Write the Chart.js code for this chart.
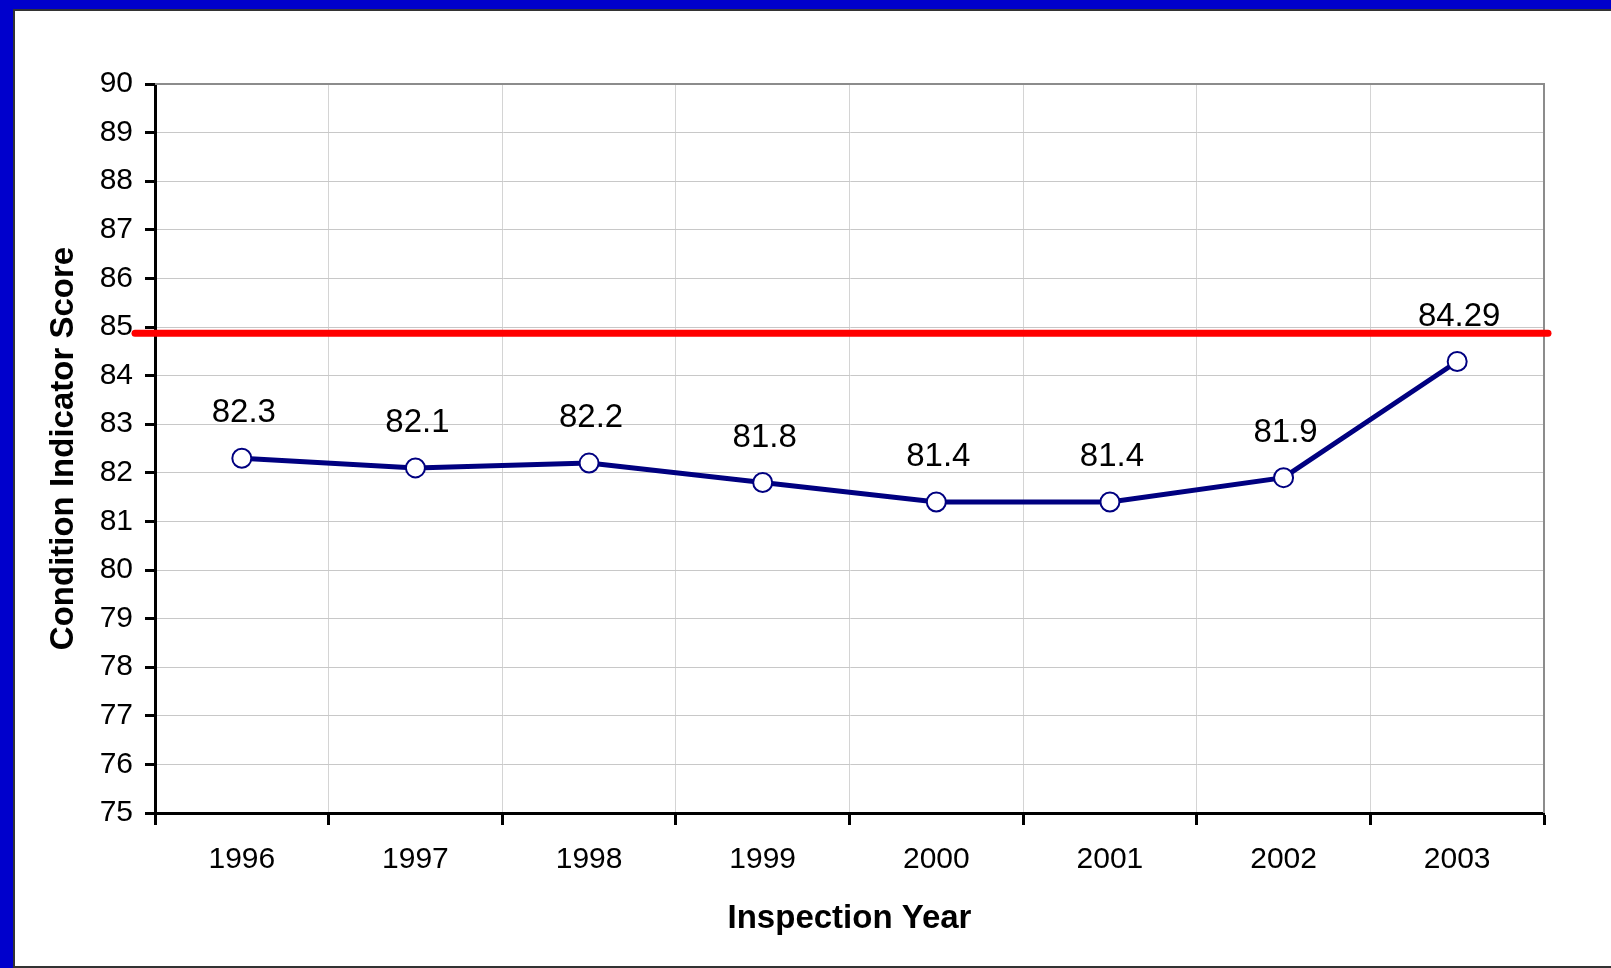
<!DOCTYPE html>
<html>
<head>
<meta charset="utf-8">
<title>Condition Indicator Score</title>
<script src="https://cdn.jsdelivr.net/npm/chart.js@4"></script>
<style>
    html, body { margin: 0; padding: 0; background: #ffffff; overflow: hidden; }
    .frame-top { position: absolute; left: 0; top: 0; width: 1611px; height: 9px; background: #0000cc; }
    .frame-top-line { position: absolute; left: 13px; top: 9px; width: 1598px; height: 2px; background: #333333; }
    .frame-left { position: absolute; left: 0; top: 0; width: 13px; height: 968px; background: #0000cc; }
    .frame-left-line { position: absolute; left: 13px; top: 9px; width: 2px; height: 959px; background: #333333; }
    .frame-bottom-line { position: absolute; left: 13px; top: 966px; width: 1598px; height: 2px; background: #333333; }
    #chart { position: absolute; left: 0; top: 0; }
</style>
</head>
<body>
<div class="frame-top"></div>
<div class="frame-left"></div>
<div class="frame-top-line"></div>
<div class="frame-left-line"></div>
<div class="frame-bottom-line"></div>
<canvas id="chart" width="1611" height="968"></canvas>
<script>
// Chart data
const years = ['1996', '1997', '1998', '1999', '2000', '2001', '2002', '2003'];
const scores = [82.3, 82.1, 82.2, 81.8, 81.4, 81.4, 81.9, 84.29];
const scoreLabels = ['82.3', '82.1', '82.2', '81.8', '81.4', '81.4', '81.9', '84.29'];
const targetLine = [84.87];
const yTicks = [75, 76, 77, 78, 79, 80, 81, 82, 83, 84, 85, 86, 87, 88, 89, 90];

const FONT = 'Arial, "Liberation Sans", sans-serif';

// Red target line, plot frame and value labels
const overlayPlugin = {
    id: 'overlay',
    beforeDatasetsDraw(chart) {
        const ctx = chart.ctx;
        const area = chart.chartArea;
        ctx.save();
        ctx.strokeStyle = '#8c8c8c';
        ctx.lineWidth = 2;
        ctx.beginPath();
        ctx.moveTo(area.left, area.top);
        ctx.lineTo(area.right, area.top);
        ctx.lineTo(area.right, area.bottom);
        ctx.stroke();
        ctx.restore();
    },
    afterDatasetsDraw(chart) {
        const ctx = chart.ctx;
        const area = chart.chartArea;
        const yScale = chart.scales.y;

        ctx.save();
        ctx.strokeStyle = '#ff0000';
        ctx.lineWidth = 7;
        ctx.lineCap = 'round';
        targetLine.forEach(v => {
            const y = yScale.getPixelForValue(v);
            ctx.beginPath();
            ctx.moveTo(area.left - 20, y);
            ctx.lineTo(area.right + 4, y);
            ctx.stroke();
        });

        ctx.fillStyle = '#000000';
        ctx.font = '33px ' + FONT;
        ctx.textAlign = 'center';
        ctx.textBaseline = 'middle';
        const meta = chart.getDatasetMeta(0);
        meta.data.forEach((pt, i) => {
            ctx.fillText(scoreLabels[i], pt.x + 2, pt.y - 45);
        });
        ctx.restore();
    }
};

const chart = new Chart(document.getElementById('chart').getContext('2d'), {
    type: 'line',
    data: {
        labels: years,
        datasets: [{
            label: 'Condition Indicator Score',
            data: scores,
            borderColor: '#000080',
            borderWidth: 5,
            tension: 0,
            pointRadius: 9.5,
            pointBorderWidth: 2,
            pointBackgroundColor: '#ffffff',
            pointBorderColor: '#000080'
        }]
    },
    options: {
        responsive: false,
        animation: false,
        layout: {
            padding: { left: 0, top: 84, right: 67, bottom: 0 }
        },
        plugins: {
            legend: { display: false },
            tooltip: { enabled: false }
        },
        scales: {
            x: {
                offset: true,
                grid: {
                    offset: true,
                    color: '#d4d4d4',
                    lineWidth: 1,
                    tickLength: 12,
                    tickColor: '#000000',
                    tickWidth: 3
                },
                border: { color: '#000000', width: 3 },
                ticks: {
                    color: '#000000',
                    font: { family: FONT, size: 30 },
                    padding: 17,
                    maxRotation: 0
                },
                title: {
                    display: true,
                    text: 'Inspection Year',
                    color: '#000000',
                    font: { family: FONT, size: 33, weight: 'bold' },
                    padding: { top: 0, bottom: 29 }
                },
                afterFit(scale) { scale.height = 155; }
            },
            y: {
                min: 75,
                max: 90,
                afterBuildTicks(scale) {
                    scale.ticks = yTicks.map(v => ({ value: v }));
                },
                grid: {
                    color: '#c8c8c8',
                    lineWidth: 1,
                    tickLength: 10,
                    tickColor: '#000000',
                    tickWidth: 3
                },
                border: { color: '#000000', width: 3 },
                ticks: {
                    color: '#000000',
                    font: { family: FONT, size: 30 },
                    padding: 12
                },
                title: {
                    display: true,
                    text: 'Condition Indicator Score',
                    color: '#000000',
                    font: { family: FONT, size: 33, weight: 'bold' },
                    padding: { top: 44, bottom: 0 }
                },
                afterFit(scale) { scale.width = 155; }
            }
        }
    },
    plugins: [overlayPlugin]
});
</script>
</body>
</html>
